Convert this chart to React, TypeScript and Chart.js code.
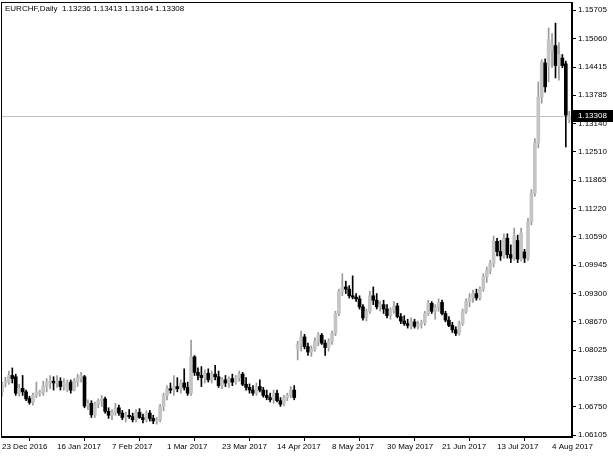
import { useEffect, useRef } from "react";
import { Chart, registerables } from "chart.js";
Chart.register(...registerables);

const symbolTitle = "EURCHF,Daily";
const dateLabels = ["23 Dec 2016", "16 Jan 2017", "7 Feb 2017", "1 Mar 2017", "23 Mar 2017", "14 Apr 2017", "8 May 2017", "30 May 2017", "21 Jun 2017", "13 Jul 2017", "4 Aug 2017"];
const dateLabelBars = [0, 16, 32, 48, 64, 80, 96, 112, 128, 144, 160];
const priceTicks = [1.15705, 1.1506, 1.14415, 1.13785, 1.1314, 1.1251, 1.11865, 1.1122, 1.1059, 1.09945, 1.093, 1.0867, 1.08025, 1.0738, 1.0675, 1.06105];

const opens = [
  1.0708, 1.0728, 1.0730, 1.0745, 1.0742, 1.0705, 1.0716, 1.0708, 1.0693, 1.0684,
  1.0698, 1.0705, 1.0707, 1.0720, 1.0730, 1.0732, 1.0728, 1.0732, 1.0720, 1.0712,
  1.0730, 1.0712, 1.0730, 1.0738, 1.0742, 1.0676, 1.0682, 1.0656, 1.0680, 1.0688,
  1.0692, 1.0664, 1.0655, 1.0662, 1.0672, 1.0660, 1.0650, 1.0655, 1.0652, 1.0645,
  1.0662, 1.0650, 1.0645, 1.0660, 1.0648, 1.0642, 1.0645, 1.0675, 1.0700, 1.0715,
  1.0712, 1.0720, 1.0715, 1.0728, 1.0718, 1.0705, 1.0787, 1.0752, 1.0745, 1.0740,
  1.0750, 1.0735, 1.0748, 1.0742, 1.0722, 1.0735, 1.0728, 1.0738, 1.0730, 1.0740,
  1.0748, 1.0725, 1.0718, 1.0712, 1.0705, 1.0720, 1.0712, 1.0700, 1.0695, 1.0690,
  1.0705, 1.0688, 1.0680, 1.0695, 1.0700, 1.0712, 1.0805, 1.0815, 1.0832, 1.0810,
  1.0798, 1.0805, 1.0822, 1.0836, 1.0818, 1.0808, 1.0822, 1.0840, 1.0885, 1.0935,
  1.0945, 1.0940, 1.0925, 1.0922, 1.0918, 1.0900, 1.0875, 1.0890, 1.0925, 1.0915,
  1.0900, 1.0905, 1.0895, 1.0880, 1.0892, 1.0902, 1.0878, 1.0868, 1.0862, 1.0858,
  1.0866, 1.0856, 1.0860, 1.0864, 1.0885, 1.0908, 1.0890, 1.0898, 1.0910, 1.0885,
  1.0870, 1.0858, 1.0848, 1.0840, 1.0862, 1.0890, 1.0912, 1.0922, 1.0930, 1.0920,
  1.0940, 1.0968, 1.0982, 1.0998, 1.1048, 1.1025, 1.1015, 1.1055, 1.1018, 1.1010,
  1.1050, 1.1008, 1.1024, 1.1010, 1.1092, 1.1157, 1.1270, 1.1374, 1.1451, 1.1445,
  1.1478, 1.1490, 1.1445, 1.1462, 1.1449, 1.13236
];
const highs = [
  1.0730, 1.0741, 1.0755, 1.0762, 1.0748, 1.0725, 1.0745, 1.0712, 1.0698, 1.0705,
  1.0730, 1.0712, 1.0732, 1.0738, 1.0745, 1.0742, 1.0745, 1.0740, 1.0738, 1.0735,
  1.0735, 1.0738, 1.0748, 1.0752, 1.0745, 1.0690, 1.0688, 1.0685, 1.0692, 1.0700,
  1.0696, 1.0672, 1.0668, 1.0682, 1.0678, 1.0666, 1.0662, 1.0668, 1.0660, 1.0668,
  1.0670, 1.0658, 1.0665, 1.0666, 1.0655, 1.0650, 1.0680, 1.0705, 1.0722, 1.0728,
  1.0745, 1.0740, 1.0735, 1.0760, 1.0730, 1.0825, 1.0790, 1.0762, 1.0765, 1.0758,
  1.0760, 1.0755, 1.0768, 1.0755, 1.0740, 1.0745, 1.0742, 1.0748, 1.0745, 1.0755,
  1.0752, 1.0740, 1.0726, 1.0722, 1.0728, 1.0735, 1.0718, 1.0712, 1.0705, 1.0712,
  1.0712, 1.0695, 1.0700, 1.0705, 1.0720, 1.0722, 1.0822, 1.0845, 1.0838, 1.0818,
  1.0812, 1.0830, 1.0842, 1.0840, 1.0825, 1.0828, 1.0845, 1.0890, 1.0940, 1.0975,
  1.0958, 1.0948, 1.0970, 1.0930, 1.0925, 1.0905, 1.0895, 1.0935, 1.0945, 1.0930,
  1.0912, 1.0915, 1.0905, 1.0898, 1.0912, 1.0908, 1.0885, 1.0880, 1.0872, 1.0875,
  1.0872, 1.0868, 1.0870, 1.0890, 1.0915, 1.0912, 1.0905, 1.0918, 1.0915, 1.0890,
  1.0878, 1.0865, 1.0855, 1.0868, 1.0895, 1.0918, 1.0930, 1.0938, 1.0940, 1.0945,
  1.0975, 1.0990, 1.1005, 1.1060, 1.1055, 1.1050, 1.1065, 1.1065, 1.1040, 1.1078,
  1.1062, 1.1078, 1.1030, 1.1100, 1.1165, 1.1280, 1.1408, 1.1458, 1.1460, 1.1530,
  1.1517, 1.1541, 1.1497, 1.1470, 1.1455, 1.13413
];
const lows = [
  1.0698, 1.0719, 1.0725, 1.0728, 1.0700, 1.0698, 1.0700, 1.0688, 1.0680, 1.0678,
  1.0695, 1.0698, 1.0700, 1.0708, 1.0715, 1.0712, 1.0718, 1.0712, 1.0712, 1.0708,
  1.0705, 1.0710, 1.0720, 1.0730, 1.0672, 1.0668, 1.0650, 1.0650, 1.0672, 1.0675,
  1.0660, 1.0648, 1.0645, 1.0655, 1.0655, 1.0645, 1.0640, 1.0648, 1.0640, 1.0640,
  1.0648, 1.0638, 1.0640, 1.0642, 1.0636, 1.0635, 1.0640, 1.0665, 1.0690, 1.0705,
  1.0700, 1.0708, 1.0705, 1.0712, 1.0700, 1.0700, 1.0745, 1.0735, 1.0720, 1.0728,
  1.0730, 1.0728, 1.0735, 1.0718, 1.0715, 1.0720, 1.0718, 1.0722, 1.0725, 1.0732,
  1.0722, 1.0712, 1.0705, 1.0700, 1.0700, 1.0708, 1.0696, 1.0690, 1.0685, 1.0682,
  1.0685, 1.0675, 1.0676, 1.0688, 1.0695, 1.0690, 1.0780, 1.0800, 1.0805, 1.0790,
  1.0788, 1.0800, 1.0812, 1.0815, 1.0790, 1.0800, 1.0815, 1.0835, 1.0880, 1.0925,
  1.0930, 1.0920, 1.0918, 1.0912, 1.0895, 1.0870, 1.0868, 1.0885, 1.0905, 1.0895,
  1.0890, 1.0885, 1.0875, 1.0872, 1.0885, 1.0875, 1.0862, 1.0858, 1.0852, 1.0850,
  1.0852, 1.0850, 1.0852, 1.0858, 1.0880, 1.0885, 1.0872, 1.0890, 1.0882, 1.0866,
  1.0855, 1.0842, 1.0835, 1.0836, 1.0858, 1.0885, 1.0900, 1.0910, 1.0915, 1.0915,
  1.0935, 1.0955, 1.0975, 1.0990, 1.1015, 1.1005, 1.1010, 1.1010, 1.1000, 1.1005,
  1.1000, 1.1003, 1.1000, 1.1005, 1.1085, 1.1150, 1.1259, 1.1360, 1.1385, 1.1408,
  1.1440, 1.1417, 1.1412, 1.1440, 1.1261, 1.13164
];
const closes = [
  1.0724, 1.0731, 1.0745, 1.0738, 1.0705, 1.0716, 1.0708, 1.0692, 1.0684, 1.0700,
  1.0708, 1.0708, 1.0722, 1.0730, 1.0733, 1.0728, 1.0732, 1.0720, 1.0730, 1.0728,
  1.0712, 1.0732, 1.0740, 1.0745, 1.0676, 1.0682, 1.0656, 1.0680, 1.0688, 1.0692,
  1.0664, 1.0655, 1.0662, 1.0672, 1.0660, 1.0650, 1.0655, 1.0652, 1.0645, 1.0662,
  1.0650, 1.0645, 1.0660, 1.0648, 1.0642, 1.0645, 1.0675, 1.0700, 1.0715, 1.0712,
  1.0720, 1.0715, 1.0728, 1.0718, 1.0705, 1.0787, 1.0752, 1.0745, 1.0740, 1.0750,
  1.0735, 1.0748, 1.0742, 1.0722, 1.0735, 1.0728, 1.0738, 1.0730, 1.0740, 1.0748,
  1.0725, 1.0718, 1.0712, 1.0705, 1.0720, 1.0712, 1.0700, 1.0695, 1.0690, 1.0705,
  1.0688, 1.0680, 1.0695, 1.0700, 1.0712, 1.0695, 1.0815, 1.0832, 1.0810, 1.0798,
  1.0805, 1.0822, 1.0836, 1.0818, 1.0808, 1.0822, 1.0840, 1.0885, 1.0935, 1.0945,
  1.0940, 1.0925, 1.0922, 1.0918, 1.0900, 1.0875, 1.0890, 1.0925, 1.0915, 1.0900,
  1.0905, 1.0895, 1.0880, 1.0892, 1.0902, 1.0878, 1.0868, 1.0862, 1.0858, 1.0866,
  1.0856, 1.0860, 1.0864, 1.0885, 1.0908, 1.0890, 1.0898, 1.0910, 1.0885, 1.0870,
  1.0858, 1.0848, 1.0840, 1.0862, 1.0890, 1.0912, 1.0922, 1.0930, 1.0920, 1.0940,
  1.0968, 1.0982, 1.0998, 1.1048, 1.1025, 1.1015, 1.1055, 1.1018, 1.1010, 1.1060,
  1.1008, 1.1067, 1.1010, 1.1092, 1.1157, 1.1270, 1.1374, 1.1453, 1.1397, 1.1504,
  1.1494, 1.1445, 1.1470, 1.1445, 1.1333, 1.13308
];

const FONT = { family: "'Liberation Sans', Arial, sans-serif", size: 8 };

export default function App() {
  const ref = useRef<HTMLCanvasElement>(null);
  useEffect(() => {
    const n = opens.length;
    const idx = opens.map((_, i) => i);
    const isUp = (i: number) => closes[i] >= opens[i];
    const bodies = idx.map((i) => ({ x: i, y: [opens[i], closes[i]] }));
    const wicks = idx.map((i) => ({ x: i, y: [lows[i], highs[i]] }));
    const last = n - 1;

    const overlay = {
      id: "overlay",
      beforeDatasetsDraw(chart: any) {
        const { ctx, chartArea: a, scales } = chart;
        const y = Math.round(scales.y.getPixelForValue(closes[last])) + 0.5;
        ctx.save();
        ctx.strokeStyle = "#c0c0c0";
        ctx.lineWidth = 1;
        ctx.beginPath();
        ctx.moveTo(a.left, y);
        ctx.lineTo(a.right, y);
        ctx.stroke();
        ctx.restore();
      },
      afterDraw(chart: any) {
        const { ctx, chartArea: a, scales } = chart;
        ctx.save();
        ctx.strokeStyle = "#000";
        ctx.lineWidth = 1;
        ctx.strokeRect(a.left + 0.5, a.top + 0.5, a.right - a.left - 1, a.bottom - a.top - 1);
        ctx.font = `${FONT.size}px ${FONT.family}`;
        ctx.fillStyle = "#000";
        ctx.textBaseline = "middle";
        ctx.textAlign = "left";
        const t = `${symbolTitle}  ${[opens[last], highs[last], lows[last], closes[last]].map((v) => v.toFixed(5)).join(" ")}`;
        ctx.fillText(t, a.left + 4, a.top + 7);
        const y = Math.round(scales.y.getPixelForValue(closes[last]));
        ctx.fillStyle = "#000";
        ctx.fillRect(a.right + 1, y - 6, 40, 12);
        ctx.fillStyle = "#fff";
        ctx.fillText(closes[last].toFixed(5), a.right + 6, y);
        ctx.restore();
      },
    };

    const chart = new Chart(ref.current as HTMLCanvasElement, {
      type: "bar",
      data: {
        datasets: [
          {
            data: bodies as any,
            backgroundColor: (c: any) => (isUp(c.dataIndex) ? "#c4c4c4" : "#000000"),
            borderWidth: 0,
            barThickness: 3,
            minBarLength: 1,
            grouped: false,
            order: 0,
          } as any,
          {
            data: wicks as any,
            backgroundColor: (c: any) => (isUp(c.dataIndex) ? "#9a9a9a" : "#000000"),
            borderWidth: 0,
            barThickness: 1,
            grouped: false,
            order: 1,
          } as any,
        ],
      },
      options: {
        animation: false,
        responsive: false,
        layout: { padding: { left: 1, top: 2, right: 0, bottom: 0 } },
        plugins: { legend: { display: false }, tooltip: { enabled: false } },
        scales: {
          x: {
            type: "linear",
            min: -0.29,
            max: 165.8,
            offset: false,
            afterBuildTicks: (s: any) => {
              s.ticks = dateLabelBars.map((v) => ({ value: v }));
            },
            afterFit: (s: any) => {
              s.height = 21;
              s.paddingLeft = 0;
              s.paddingRight = 0;
            },
            ticks: {
              callback: (_v: any, i: number) => dateLabels[i],
              autoSkip: false,
              maxRotation: 0,
              align: "start",
              color: "#000",
              font: FONT,
              padding: 1,
            },
            grid: { drawOnChartArea: false, tickLength: 4, color: "#000" },
            border: { color: "#000" },
          },
          y: {
            type: "linear",
            position: "right",
            min: 1.0606,
            max: 1.15886,
            afterBuildTicks: (s: any) => {
              s.ticks = priceTicks.map((v) => ({ value: v }));
            },
            afterFit: (s: any) => {
              s.width = 41;
              s.paddingTop = 0;
              s.paddingBottom = 0;
            },
            ticks: {
              callback: (v: any) => Number(v).toFixed(5),
              color: "#000",
              font: FONT,
              padding: 2,
              crossAlign: "near",
            },
            grid: { drawOnChartArea: false, tickLength: 4, color: "#000" },
            border: { color: "#000" },
          },
        },
      } as any,
      plugins: [overlay],
    });
    return () => chart.destroy();
  }, []);

  return (
    <div style={{ position: "absolute", left: 0, top: 0, width: 613, height: 458, background: "#fff" }}>
      <canvas ref={ref} width={613} height={458} />
    </div>
  );
}
